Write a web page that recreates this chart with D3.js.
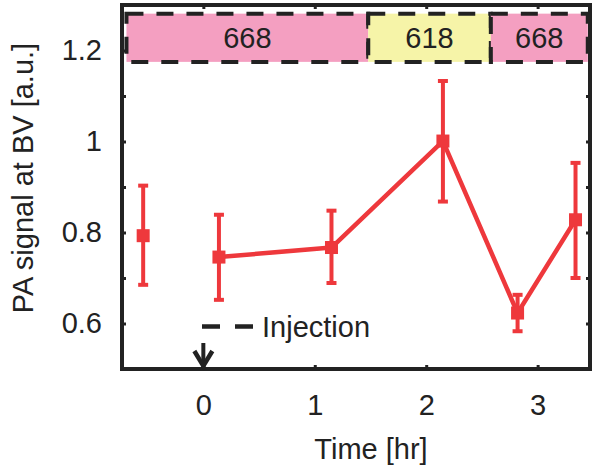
<!DOCTYPE html>
<html><head><meta charset="utf-8">
<script src="https://cdn.jsdelivr.net/npm/d3@7"></script>
<style>body{margin:0;background:#fff}svg{display:block}text{font-family:"Liberation Sans",Arial,sans-serif;fill:#222}</style>
</head><body><svg id="c" width="600" height="467"></svg>
<script>
const times = [-0.54, 0.14, 1.15, 2.15, 2.82, 3.34];
const signal = [0.793, 0.746, 0.767, 1.001, 0.623, 0.828];
const errLow = [0.685, 0.652, 0.689, 0.868, 0.583, 0.700];
const errHigh = [0.903, 0.839, 0.848, 1.133, 0.663, 0.953];
const connected = [false, true, true, true, true, true];
const bandStarts = [-0.69, 1.48, 2.58];
const bandEnds = [1.48, 2.58, 3.45];
const bandLabels = ["668", "618", "668"];
const bandColors = ["#f49fc1", "#f6f4a8", "#f49fc1"];
const bandLow = 1.175, bandHigh = 1.281;
const xTicks = [0, 1, 2, 3];
const yTicks = [0.6, 0.8, 1, 1.2];
const yMinor = [0.6, 0.7, 0.8, 0.9, 1.0, 1.1, 1.2];
const injectionTime = 0;

const svg = d3.select("#c");
const L = 122, R = 590, T = 5, B = 369;
const x = d3.scaleLinear().domain([-0.73, 3.47]).range([L, R]);
const y = d3.scaleLinear().domain([0.5, 1.3]).range([B, T]);
const red = "#ee383c";
const ink = "#222";

// band
const band = svg.append("g");
bandStarts.forEach((s, i) => {
  band.append("rect").attr("x", x(s)).attr("y", y(bandHigh))
    .attr("width", x(bandEnds[i]) - x(s)).attr("height", y(bandLow) - y(bandHigh))
    .attr("fill", bandColors[i]).attr("stroke", ink).attr("stroke-width", 4)
    .attr("stroke-dasharray", "17,13");
  band.append("text").attr("x", (x(s) + x(bandEnds[i])) / 2).attr("y", (y(bandLow) + y(bandHigh)) / 2)
    .attr("dy", "0.36em").attr("text-anchor", "middle").style("font-size", "29px").text(bandLabels[i]);
});

// axes ticks (inside)
const axB = d3.axisBottom(x).tickValues(xTicks).tickSize(-4).tickPadding(25).tickFormat(d3.format("d"));
const gx = svg.append("g").attr("transform", `translate(0,${B})`).call(axB);
const axL = d3.axisLeft(y).tickValues(yMinor).tickSize(-4).tickPadding(20)
  .tickFormat(d => yTicks.some(t => Math.abs(t - d) < 1e-6) ? d3.format("~g")(d) : "");
const gy = svg.append("g").attr("transform", `translate(${L},0)`).call(axL);
const gr = svg.append("g").attr("transform", `translate(${R},0)`).call(d3.axisRight(y).tickValues(yMinor).tickSize(-4).tickFormat(""));
const gt = svg.append("g").attr("transform", `translate(0,${T})`).call(d3.axisTop(x).tickValues(xTicks).tickSize(-4).tickFormat(""));
[gx, gy, gr, gt].forEach(g => {
  g.select(".domain").remove();
  g.selectAll(".tick line").attr("stroke", ink).attr("stroke-width", 3);
  g.selectAll(".tick text").style("font-size", "29px").attr("fill", ink).style("font-family", '"Liberation Sans",Arial,sans-serif');
});
gx.selectAll(".tick text").attr("dy", "0.71em");

// frame
svg.append("rect").attr("x", L).attr("y", T).attr("width", R - L).attr("height", B - T)
  .attr("fill", "none").attr("stroke", ink).attr("stroke-width", 4);

// line
const pts = times.map((t, i) => ({t, v: signal[i], lo: errLow[i], hi: errHigh[i], c: connected[i]}));
svg.append("path").datum(pts.filter(d => d.c))
  .attr("d", d3.line().x(d => x(d.t)).y(d => y(d.v)))
  .attr("fill", "none").attr("stroke", red).attr("stroke-width", 4.5).attr("stroke-linejoin", "round");

// error bars
const eb = svg.append("g").attr("stroke", red).attr("stroke-width", 4);
pts.forEach(d => {
  eb.append("line").attr("x1", x(d.t)).attr("x2", x(d.t)).attr("y1", y(d.lo)).attr("y2", y(d.hi));
  eb.append("line").attr("x1", x(d.t) - 5).attr("x2", x(d.t) + 5).attr("y1", y(d.lo)).attr("y2", y(d.lo));
  eb.append("line").attr("x1", x(d.t) - 5).attr("x2", x(d.t) + 5).attr("y1", y(d.hi)).attr("y2", y(d.hi));
});
svg.append("g").selectAll("rect").data(pts).join("rect")
  .attr("x", d => x(d.t) - 6.5).attr("y", d => y(d.v) - 6.5).attr("width", 13).attr("height", 13).attr("fill", red);

// injection arrow
const ax0 = x(injectionTime);
svg.append("line").attr("x1", ax0).attr("x2", ax0).attr("y1", 343).attr("y2", B - 1)
  .attr("stroke", ink).attr("stroke-width", 4);
svg.append("path").attr("d", `M${ax0 - 9},${B - 18} L${ax0},${B - 3} L${ax0 + 9},${B - 18}`)
  .attr("fill", "none").attr("stroke", ink).attr("stroke-width", 4.5).attr("stroke-linejoin", "miter");

// legend
svg.append("line").attr("x1", 202).attr("x2", 258).attr("y1", 326.5).attr("y2", 326.5)
  .attr("stroke", ink).attr("stroke-width", 4.5).attr("stroke-dasharray", "18,15");
svg.append("text").attr("x", 262).attr("y", 326.5).attr("dy", "0.36em").style("font-size", "29px").text("Injection");

// axis titles
svg.append("text").attr("x", (L + R) / 2 + 15).attr("y", 449).attr("dy", "0.36em")
  .attr("text-anchor", "middle").style("font-size", "29px").text("Time [hr]");
svg.append("text").attr("transform", `translate(23,${178}) rotate(-90)`).attr("dy", "0.36em")
  .attr("text-anchor", "middle").style("font-size", "29px").text("PA signal at BV [a.u.]");
</script></body></html>
